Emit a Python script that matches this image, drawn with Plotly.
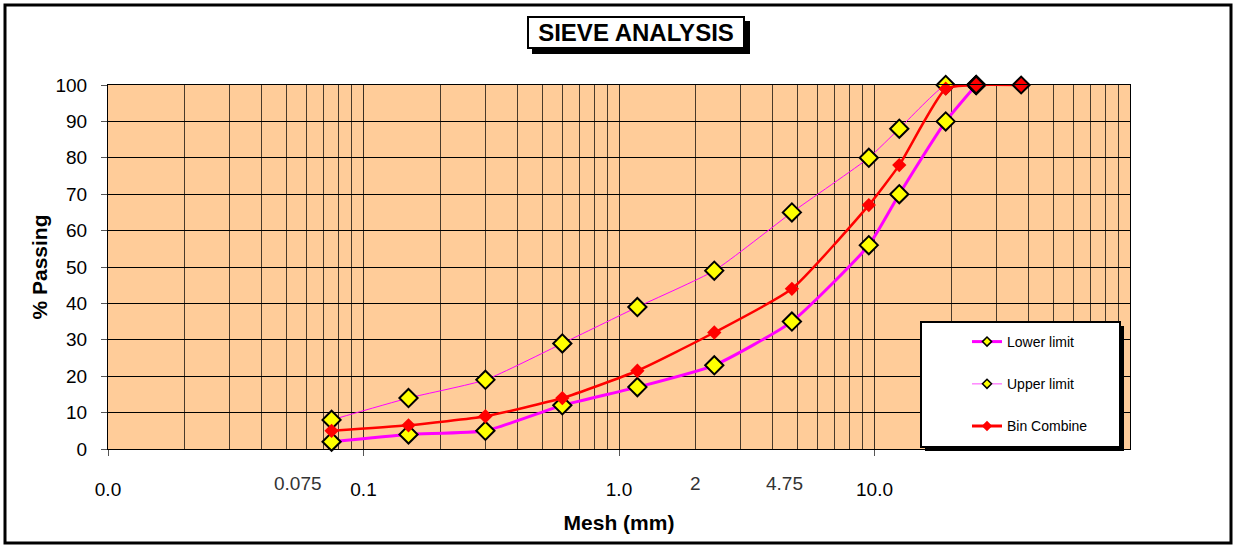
import math
import plotly.graph_objects as go

# Sieve sizes (mm) and percent passing
sieve_mm = [0.075, 0.15, 0.3, 0.6, 1.18, 2.36, 4.75, 9.5, 12.5, 19, 25, 37.5]
lower_limit = [2, 4, 5, 12, 17, 23, 35, 56, 70, 90, 100]
upper_limit = [8, 14, 19, 29, 39, 49, 65, 80, 88, 100, 100]
bin_combine = [5, 6.5, 9, 14, 21.5, 32, 44, 67, 78, 99, 100, 100]

x_tick_vals = [0.01, 0.1, 1, 10]
x_tick_text = ["0.0", "0.1", "1.0", "10.0"]
extra_labels = ["0.075", "2", "4.75"]
extra_label_vals = [0.075, 2, 4.75]
extra_label_shift = [-34, 0, -7]

minor_vals = [m * d for d in (0.01, 0.1, 1, 10) for m in range(2, 10)]

YELLOW = "#FFFF00"
MAGENTA = "#FF00FF"
RED = "#FF0000"
FONT = "Arial, Liberation Sans, sans-serif"


def px_x(p):
    return (p - 108) / 1022


def px_y(p):
    return (449 - p) / 364


fig = go.Figure()

fig.add_trace(go.Scatter(
    x=sieve_mm[:len(lower_limit)], y=lower_limit, mode="lines+markers",
    line=dict(color=MAGENTA, width=3, shape="spline", smoothing=0.5),
    marker=dict(symbol="diamond", size=14, color=YELLOW, line=dict(color="black", width=2)),
    showlegend=False, cliponaxis=False, name="Lower limit"))

fig.add_trace(go.Scatter(
    x=sieve_mm[:len(upper_limit)], y=upper_limit, mode="lines+markers",
    line=dict(color=MAGENTA, width=1, shape="spline", smoothing=0.5),
    marker=dict(symbol="diamond", size=14, color=YELLOW, line=dict(color="black", width=2)),
    showlegend=False, cliponaxis=False, name="Upper limit"))

fig.add_trace(go.Scatter(
    x=sieve_mm, y=bin_combine, mode="lines",
    line=dict(color=RED, width=2.5, shape="spline", smoothing=0.5),
    showlegend=False, cliponaxis=False, name="Bin Combine"))
fig.add_trace(go.Scatter(
    x=sieve_mm[:-2], y=bin_combine[:-2], mode="markers",
    marker=dict(symbol="diamond", size=11, color=RED, line=dict(width=0)),
    showlegend=False, cliponaxis=False, name="Bin Combine"))
fig.add_trace(go.Scatter(
    x=sieve_mm[-2:], y=bin_combine[-2:], mode="markers",
    marker=dict(symbol="diamond", size=13, color=RED, line=dict(color="black", width=2)),
    showlegend=False, cliponaxis=False, name="Bin Combine"))

# Legend entries
fig.add_trace(go.Scatter(
    x=[None], y=[None], mode="lines+markers", name="Lower limit", legendgroup="a",
    line=dict(color=MAGENTA, width=3),
    marker=dict(symbol="diamond", size=7, color=YELLOW, line=dict(color="black", width=1.5))))
fig.add_trace(go.Scatter(
    x=[None], y=[None], mode="lines+markers", name="Upper limit", legendgroup="b",
    line=dict(color="#FF88FF", width=1.5),
    marker=dict(symbol="diamond", size=7, color=YELLOW, line=dict(color="black", width=1.5))))
fig.add_trace(go.Scatter(
    x=[None], y=[None], mode="lines+markers", name="Bin Combine", legendgroup="c",
    line=dict(color=RED, width=3),
    marker=dict(symbol="diamond", size=8, color=RED)))

annotations = []
for txt, v, dx in zip(extra_labels, extra_label_vals, extra_label_shift):
    annotations.append(dict(
        x=math.log10(v), y=0, xref="x", yref="paper", text=txt, showarrow=False,
        xshift=dx, yshift=-34, yanchor="middle",
        font=dict(family=FONT, size=19, color="#333333")))

# Title box
annotations.append(dict(
    x=px_x(636), y=px_y(32.5), xref="paper", yref="paper", text="<b>SIEVE ANALYSIS</b>",
    xanchor="center", yanchor="middle", width=214, height=29,
    showarrow=False, bgcolor="white", bordercolor="black",
    borderwidth=2, borderpad=0, font=dict(family=FONT, size=24, color="black")))

shapes = [
    # outer frame
    dict(type="rect", xref="paper", yref="paper",
         x0=px_x(5), x1=px_x(1231), y0=px_y(543), y1=px_y(5),
         line=dict(color="black", width=3), layer="above"),
    # title drop shadow
    dict(type="rect", xref="paper", yref="paper",
         x0=px_x(532), x1=px_x(750), y0=px_y(54), y1=px_y(21),
         line=dict(width=0), fillcolor="black", layer="above"),
    # legend box shadow and box
    dict(type="rect", xref="paper", yref="paper",
         x0=px_x(925), x1=px_x(1124), y0=px_y(451), y1=px_y(326),
         line=dict(width=0), fillcolor="black", layer="above"),
    dict(type="rect", xref="paper", yref="paper",
         x0=px_x(921), x1=px_x(1120), y0=px_y(447), y1=px_y(322),
         line=dict(color="black", width=2), fillcolor="white", layer="above"),
]

fig.update_layout(
    width=1241, height=545,
    margin=dict(l=108, r=111, t=85, b=96),
    paper_bgcolor="white", plot_bgcolor="#FFCC99",
    font=dict(family=FONT, size=19, color="black"),
    annotations=annotations, shapes=shapes,
    legend=dict(x=px_x(967), y=px_y(326), xanchor="left", yanchor="top",
                bgcolor="rgba(0,0,0,0)", borderwidth=0,
                font=dict(family=FONT, size=14, color="black"), tracegroupgap=21,
                itemclick=False),
)

fig.update_xaxes(
    type="log", range=[-2, 2],
    tickvals=x_tick_vals, ticktext=x_tick_text,
    ticks="outside", ticklen=6, tickcolor="#555555", ticklabelstandoff=17,
    tickfont=dict(size=19),
    showgrid=True, gridcolor="#3a2e22", gridwidth=1,
    minor=dict(tickvals=minor_vals, showgrid=True, gridcolor="#4a3a2a", gridwidth=1, ticks=""),
    showline=True, linecolor="black", linewidth=1, mirror=True,
    title=dict(text="<b>Mesh (mm)</b>", font=dict(size=21), standoff=16),
    zeroline=False,
)
fig.update_yaxes(
    range=[0, 100], tickvals=list(range(0, 101, 10)),
    ticks="outside", ticklen=6, tickcolor="#555555", ticklabelstandoff=10,
    tickfont=dict(size=19),
    showgrid=True, gridcolor="black", gridwidth=1,
    showline=True, linecolor="black", linewidth=1, mirror=True,
    title=dict(text="<b>% Passing</b>", font=dict(size=21), standoff=2),
    zeroline=False,
)

fig.write_html("out.html")
